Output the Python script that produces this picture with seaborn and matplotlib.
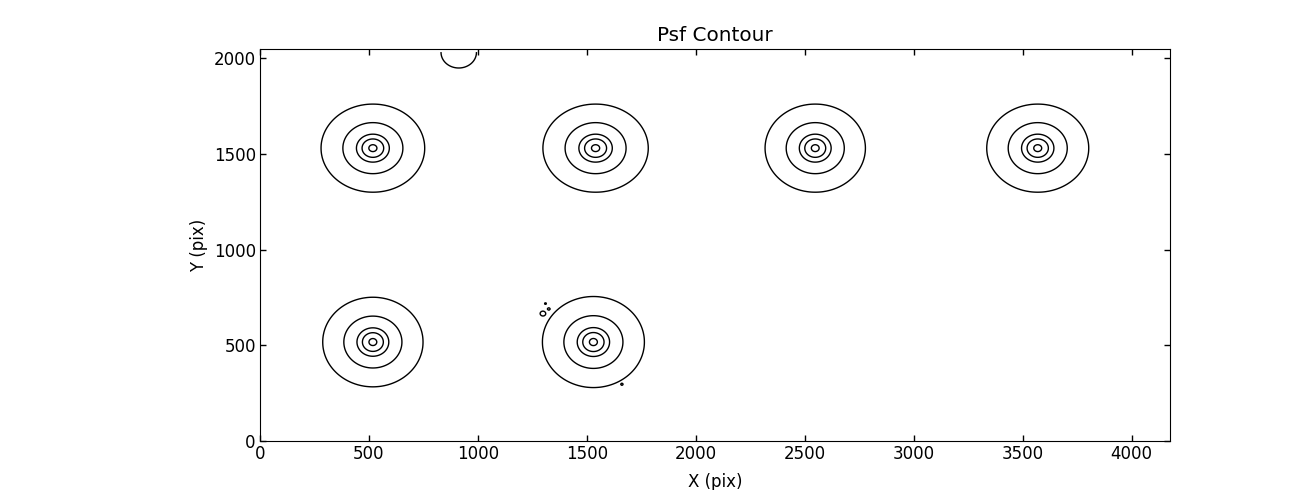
import numpy as np
import matplotlib
matplotlib.use("Agg")
import matplotlib.pyplot as plt
import seaborn as sns

# PSF star positions (pix) and shape
psf_x = [518, 1540, 2548, 3569, 518, 1530]
psf_y = [1530, 1530, 1530, 1530, 517, 517]
psf_sx = [62, 63, 60, 61, 60, 61]
psf_sy = [60, 60, 60, 60, 61, 62]
psf_amp = [1.0, 1.0, 1.0, 1.0, 1.0, 1.0]

# faint sources (edge blob at the top and small noise specks)
faint_x = [912, 1298, 1325, 1310, 1661]
faint_y = [2030, 666, 690, 718, 296]
faint_s = [60, 9, 5, 4, 4]
faint_amp = [0.0016, 0.0016, 0.0012, 0.0011, 0.0011]

contour_levels = [0.00064, 0.085, 0.477, 0.726, 0.956]

img_w, img_h = 4176, 2048
grid_top = 2032  # psf map stops a bit below the frame top

sns.set_style("ticks", {"xtick.direction": "in", "ytick.direction": "in",
                        "axes.edgecolor": "black", "axes.linewidth": 1.0,
                        "text.color": "black", "axes.labelcolor": "black",
                        "xtick.color": "black", "ytick.color": "black"})
plt.rcParams["font.family"] = ["DejaVu Sans"]
plt.rcParams["font.size"] = 12

xx, yy = np.meshgrid(np.arange(0, img_w + 1, 4), np.arange(0, grid_top + 1, 4))
field = np.zeros_like(xx, dtype=float)
for x0, y0, sx, sy, a in zip(psf_x, psf_y, psf_sx, psf_sy, psf_amp):
    field += a * np.exp(-((xx - x0) ** 2 / (2 * sx ** 2) + (yy - y0) ** 2 / (2 * sy ** 2)))
for x0, y0, s, a in zip(faint_x, faint_y, faint_s, faint_amp):
    field += a * np.exp(-((xx - x0) ** 2 + (yy - y0) ** 2) / (2 * s ** 2))

fig = plt.figure(figsize=(13, 4.9), dpi=100)
ax = fig.add_axes([0.2, 0.1, 0.7, 0.8])
ax.contour(xx, yy, field, levels=contour_levels, colors="black", linewidths=1.0)
ax.set_xlim(0, img_w)
ax.set_ylim(0, img_h)
ax.set_aspect("auto")
ax.tick_params(which="both", top=True, right=True, direction="in",
               length=4, width=1, labelsize=12, pad=3, color="black",
               labelcolor="black")
ax.set_xticks(np.arange(0, 4001, 500))
ax.set_yticks(np.arange(0, 2001, 500))
ax.set_title("Psf Contour", fontsize=14.4, color="black")
ax.set_xlabel("X (pix)", fontsize=12, color="black", labelpad=7)
ax.set_ylabel("Y (pix)", fontsize=12, color="black")

fig.savefig("out.png", dpi=100)
